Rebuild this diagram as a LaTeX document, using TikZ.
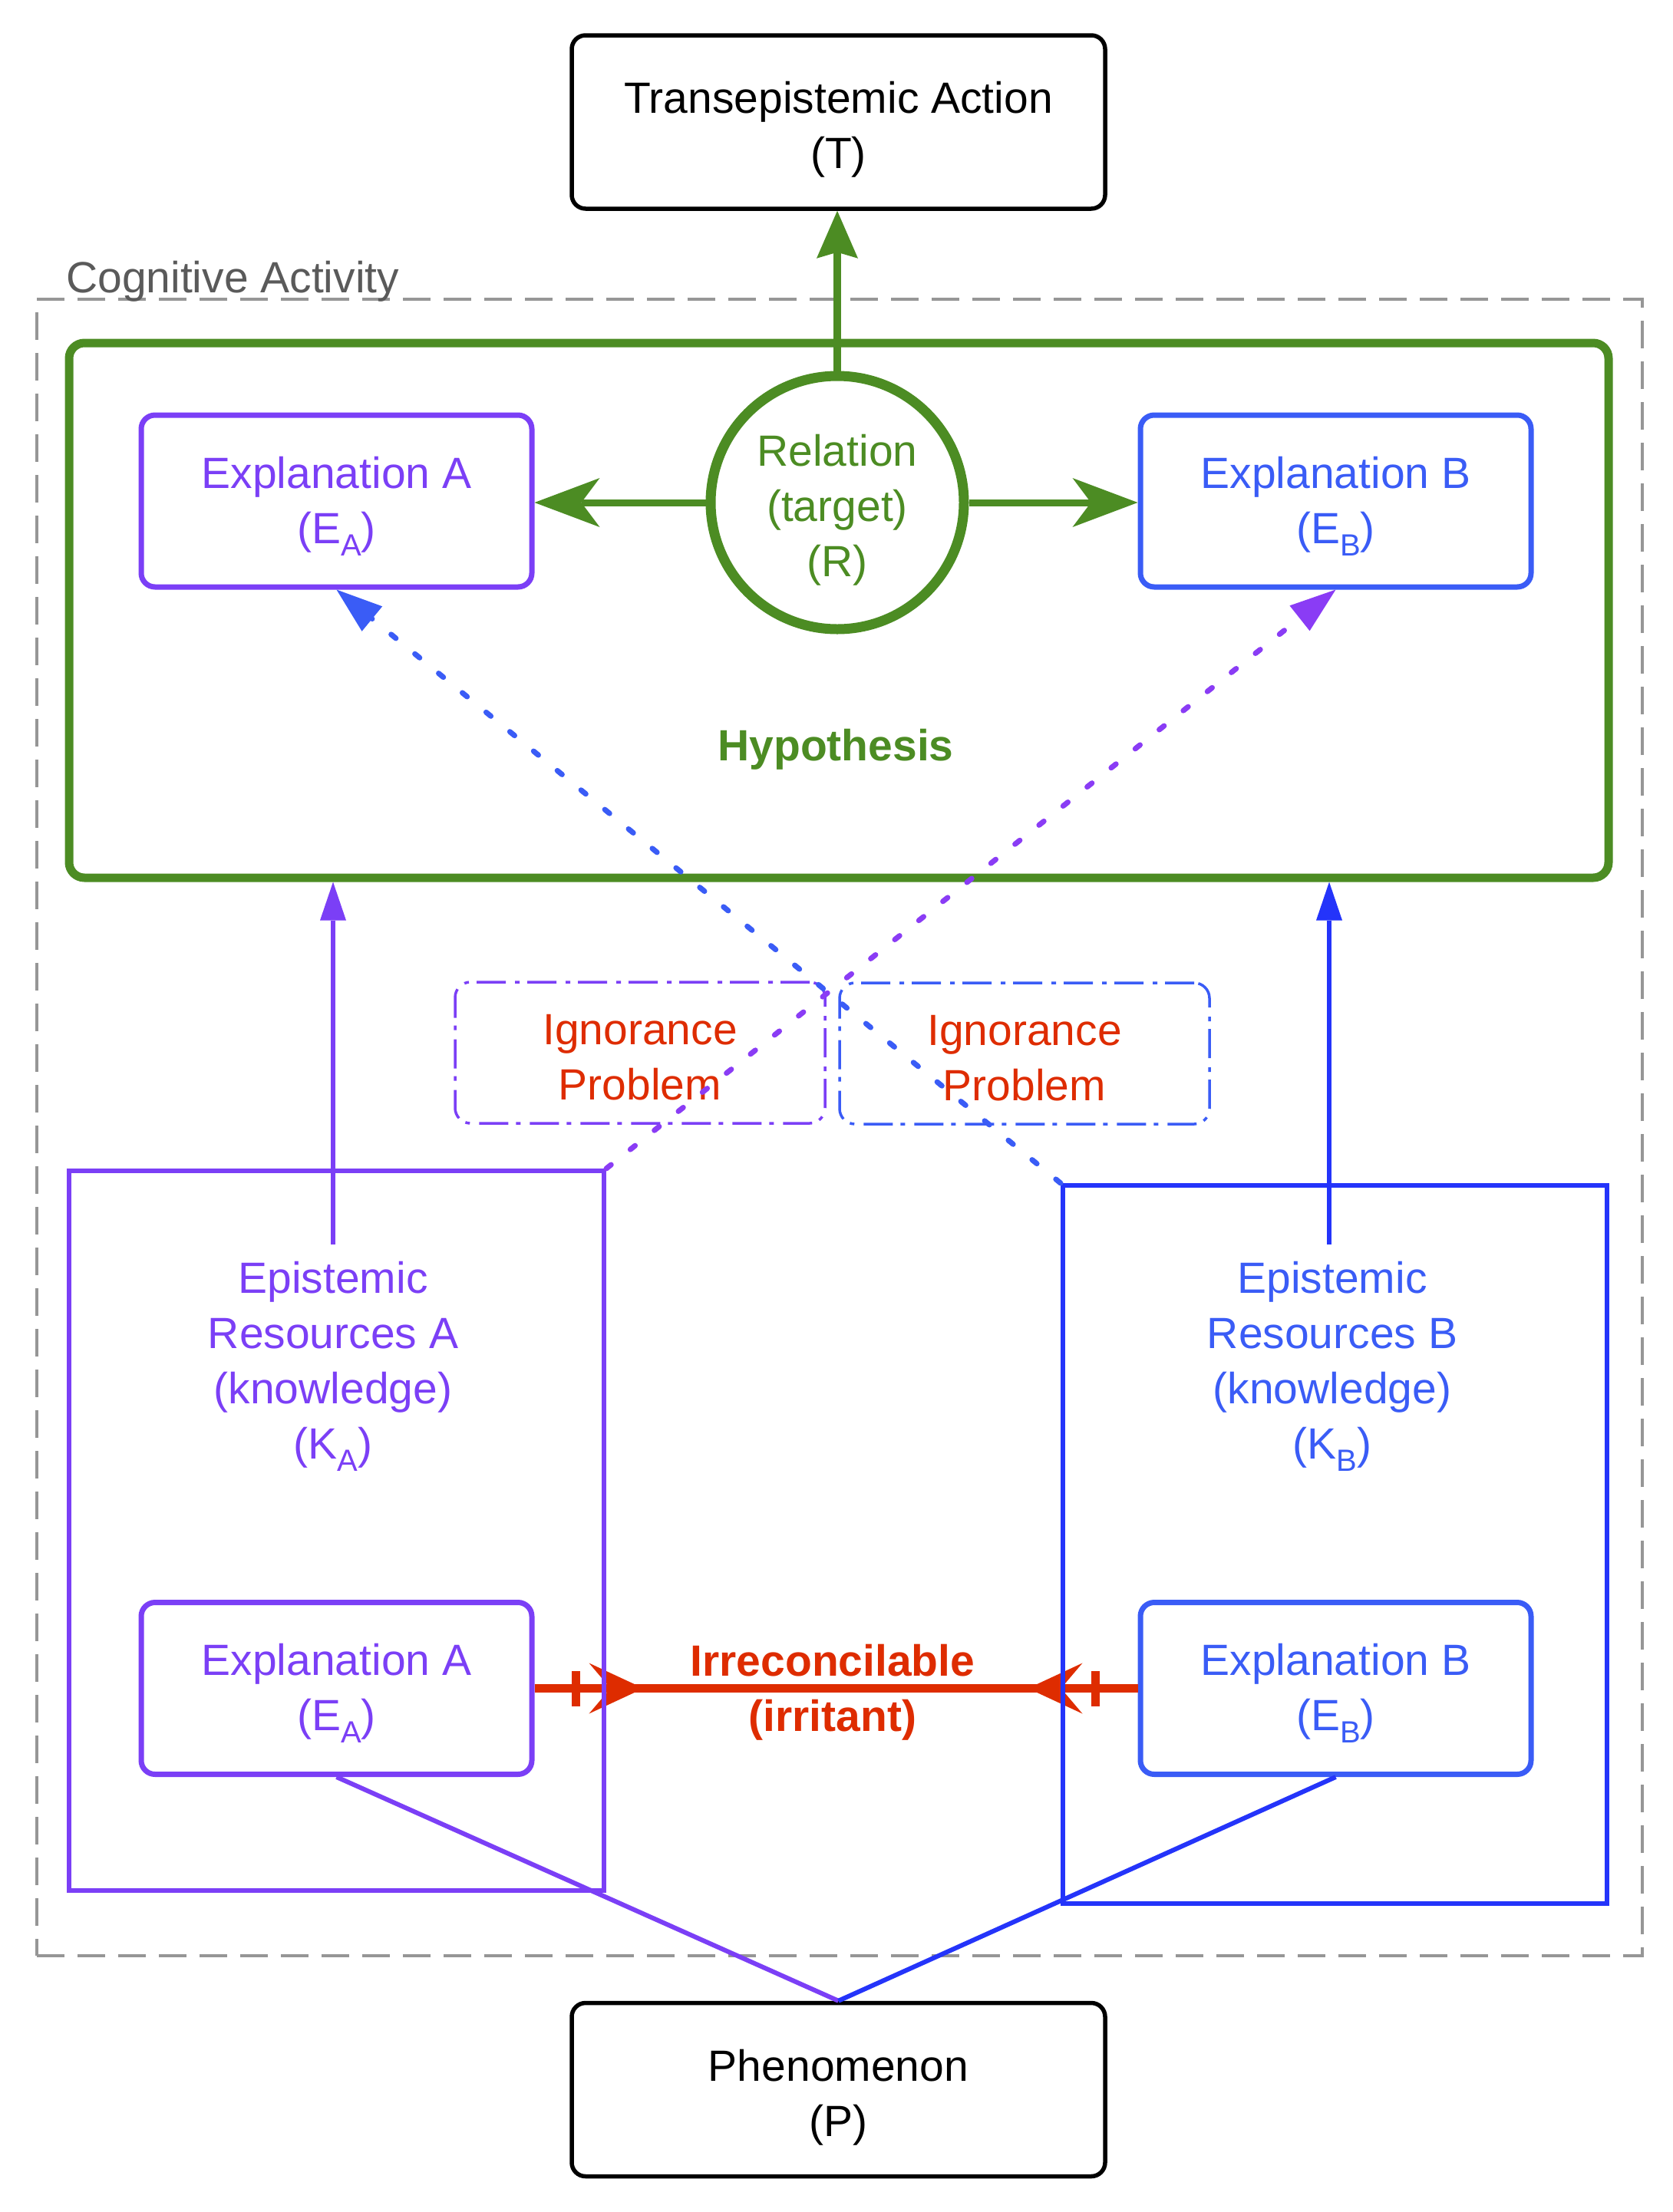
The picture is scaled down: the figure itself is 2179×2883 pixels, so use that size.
\documentclass[tikz,border=0pt]{standalone}
\usepackage{fontspec}
\setmainfont{Liberation Sans}
\usetikzlibrary{arrows.meta,calc,decorations.markings}
\definecolor{cpurple}{RGB}{123,63,246}
\definecolor{cpurpleD}{RGB}{138,60,245}
\definecolor{cblue}{RGB}{58,92,246}
\definecolor{cblueD}{RGB}{36,52,250}
\definecolor{cgreen}{RGB}{76,140,35}
\definecolor{cred}{RGB}{222,44,0}
\definecolor{cgrayl}{RGB}{150,150,150}
\definecolor{cgrayt}{RGB}{90,90,90}
\newcommand\dfont{\fontsize{57}{72}\selectfont}
\newcommand\subtxt[1]{\raisebox{-16pt}{\fontsize{40}{40}\selectfont #1}}
\newcommand\flstrut[1]{\rule{0pt}{#1}}
\begin{document}
\begin{tikzpicture}[x=1pt,y=-1pt,font=\dfont,
  blackbox/.style={draw=black,line width=5.5pt,rounded corners=18pt,minimum width=695pt,minimum height=226pt,align=center,inner sep=0pt},
  ebox/.style={draw=#1,text=#1,line width=7pt,rounded corners=18pt,minimum width=509pt,minimum height=224pt,align=center,inner sep=0pt},
  ibox/.style={draw=#1,line width=3.5pt,rounded corners=20pt,dash pattern=on 38pt off 10pt on 6pt off 12pt,minimum width=482pt,minimum height=184pt,text=cred,align=center,inner sep=0pt},
  garrow/.style={draw=cgreen,line width=9pt,-{Stealth[length=85pt,width=64pt,inset=24pt,line width=0pt]}},
  garrowup/.style={draw=cgreen,line width=10pt,-{Stealth[length=62pt,width=54pt,inset=8pt,line width=0pt]}},
  varrow/.style={draw=#1,line width=6pt,-{Triangle[length=50pt,width=34pt,line width=0pt]}},
  dotarrow/.style={draw=#1,line width=7pt,line cap=round,dash pattern=on 8pt off 32pt,-{Triangle[length=60pt,width=42pt,line width=0pt]}},
  erbox/.style={draw=#1,line width=6pt,inner sep=0pt},
  txt/.style={align=center,inner sep=0pt,text=#1}
]
\useasboundingbox (0,0) rectangle (2179,2883);

% cognitive activity frame
\node[draw=cgrayl,line width=4pt,dash pattern=on 36pt off 17pt,minimum width=2092pt,minimum height=2159pt,inner sep=0pt] (cog) at (1094,1469.5) {};
\node[anchor=base west,text=cgrayt,inner sep=0pt] (coglabel) at (86,381) {Cognitive Activity};

% top and bottom boxes
\node[blackbox] (T) at (1092.5,159) {\flstrut{61pt}Transepistemic Action\\(T)};
\node[blackbox] (P) at (1092.5,2723.5) {\flstrut{61pt}Phenomenon\\(P)};

% hypothesis
\node[draw=cgreen,line width=11pt,rounded corners=20pt,minimum width=2006pt,minimum height=697pt,inner sep=0pt] (hyp) at (1093,795.5) {};
\node[txt=cgreen,font=\dfont\bfseries] (hyplabel) at (1089,977) {Hypothesis};

\node[circle,draw=cgreen,line width=13pt,minimum size=330pt,txt=cgreen] (rel) at (1091,655) {\flstrut{61pt}Relation\\(target)\\(R)};
\node[ebox=cpurple] (eaT) at (438.5,653) {\flstrut{55pt}Explanation A\\(E\subtxt{A})};
\node[ebox=cblue] (ebT) at (1740.5,653) {\flstrut{55pt}Explanation B\\(E\subtxt{B})};

\draw[garrow] (rel.west) -- (rel.west -| eaT.east);
\draw[garrow] (rel.east) -- (rel.east -| ebT.west);
\draw[garrowup] (rel.north) -- (rel.north |- T.south);

% ignorance boxes
\node[ibox=cpurple] (igA) at (834,1372) {\flstrut{51pt}Ignorance\\Problem};
\node[ibox=cblue] (igB) at (1335,1373) {\flstrut{51pt}Ignorance\\Problem};

% bottom explanation boxes
\node[ebox=cpurple] (eaB) at (438.5,2200.5) {\flstrut{53pt}Explanation A\\(E\subtxt{A})};
\node[ebox=cblue] (ebB) at (1740.5,2200.5) {\flstrut{53pt}Explanation B\\(E\subtxt{B})};

% irreconcilable
\node[txt=cred,font=\dfont\bfseries] (irr) at (1085,2206) {Irreconcilable\\(irritant)};
\draw[draw=cred,line width=11pt,postaction={decorate},
  decoration={markings,
    mark=at position 54pt with {\fill[cred] (-5.5pt,-23pt) rectangle (5.5pt,23pt);},
    mark=at position 142pt with {\arrow{Stealth[length=71pt,width=66pt,inset=28pt,line width=0pt]}},
    mark=at position -55pt with {\fill[cred] (-5.5pt,-23pt) rectangle (5.5pt,23pt);},
    mark=at position -143pt with {\arrowreversed{Stealth[length=71pt,width=66pt,inset=28pt,line width=0pt]}}}]
  (eaB.east) -- (ebB.west);

% epistemic resource boxes
\node[erbox=cpurple,minimum width=697pt,minimum height=938pt] (erA) at (438.5,1995) {};
\node[erbox=cblueD,minimum width=709pt,minimum height=936pt] (erB) at (1739.5,2013) {};
\node[txt=cpurple] (kA) at (434,1781) {Epistemic\\Resources A\\(knowledge)\\(K\subtxt{A})};
\node[txt=cblue] (kB) at (1736,1781) {Epistemic\\Resources B\\(knowledge)\\(K\subtxt{B})};
\coordinate (kAtop) at (434,1622);
\coordinate (kBtop) at (1732,1622);
\draw[varrow=cpurple] (kAtop) -- (kAtop |- hyp.south);
\draw[varrow=cblueD] (kBtop) -- (kBtop |- hyp.south);

% dotted cross arrows
\draw[dotarrow=cpurpleD] (erA.north east) -- (ebT.south);
\draw[dotarrow=cblue] (erB.north west) -- (eaT.south);

% phenomenon links
\draw[draw=cpurple,line width=6pt] (eaB.south) -- (P.north);
\draw[draw=cblueD,line width=6pt] (ebB.south) -- (P.north);
\end{tikzpicture}
\end{document}
